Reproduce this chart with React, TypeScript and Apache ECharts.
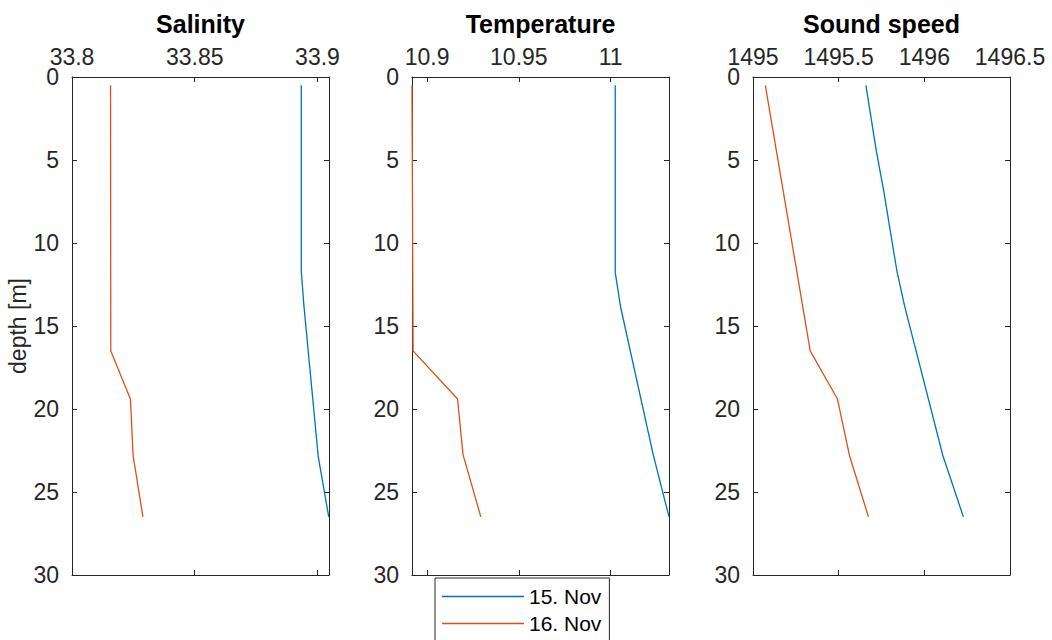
import React, { useEffect, useRef } from "react";
import * as echarts from "echarts";

// ---- data ----
const seriesNames = ["15. Nov", "16. Nov"];
const panelTitles = ["Salinity", "Temperature", "Sound speed"];

// Salinity
const salDepth15 = [0.5, 11.7, 13.8, 22.85, 26.5];
const sal15 = [33.8934, 33.8934, 33.8945, 33.9003, 33.9046];
const salDepth16 = [0.5, 16.5, 19.4, 22.8, 26.5];
const sal16 = [33.8157, 33.8158, 33.8238, 33.8249, 33.8289];
const salTicks = [33.8, 33.85, 33.9];

// Temperature
const tempDepth15 = [0.5, 11.77, 13.84, 22.75, 26.5];
const temp15 = [11.0025, 11.0025, 11.0054, 11.0232, 11.0318];
const tempDepth16 = [0.5, 16.5, 19.4, 22.75, 26.5];
const temp16 = [10.8918, 10.8924, 10.9166, 10.9196, 10.9293];
const tempTicks = [10.9, 10.95, 11];

// Sound speed
const ssDepth15 = [0.5, 4.4, 6.8, 11.7, 13.8, 22.8, 26.5];
const ss15 = [1495.659, 1495.719, 1495.762, 1495.84, 1495.885, 1496.108, 1496.228];
const ssDepth16 = [0.5, 16.5, 19.4, 22.8, 26.5];
const ss16 = [1495.072, 1495.334, 1495.493, 1495.563, 1495.674];
const ssTicks = [1495, 1495.5, 1496, 1496.5];

const xRanges = [
  [33.8, 33.9047],
  [10.8918, 11.0318],
  [1495, 1496.5],
];

const BLUE = "#0072BD";
const ORANGE = "#D95319";
const AX = "#262626";
const FONT = "'Liberation Sans', Arial, Helvetica, sans-serif";
const TICK_FS = 23;

const zip = (xs: number[], ds: number[]) => xs.map((v, i) => [v, ds[i]]);

export default function App() {
  const ref = useRef<HTMLDivElement>(null);

  useEffect(() => {
    if (!ref.current) return;
    const chart = echarts.init(ref.current, undefined, { renderer: "svg" });

    const gridLefts = [72, 412, 753];
    const gridWidth = 257;
    const gridTop = 77;
    const gridHeight = 498;
    const ticksList = [salTicks, tempTicks, ssTicks];

    const grids = gridLefts.map((l) => ({
      left: l,
      top: gridTop,
      width: gridWidth,
      height: gridHeight,
      containLabel: false,
    }));

    const xAxes: any[] = [];
    const yAxes: any[] = [];
    for (let i = 0; i < 3; i++) {
      const [mn, mx] = xRanges[i];
      const tv = ticksList[i];
      xAxes.push({
        type: "value",
        gridIndex: i,
        position: "top",
        min: mn,
        max: mx,
        axisLine: { show: true, onZero: false, lineStyle: { color: AX, width: 1 } },
        axisTick: { show: true, inside: true, length: 5, customValues: tv, lineStyle: { color: AX } },
        axisLabel: {
          show: true,
          customValues: tv,
          color: AX,
          fontSize: TICK_FS,
          lineHeight: 14,
          fontFamily: FONT,
          margin: 13,
          formatter: (v: number) => String(v),
        },
        splitLine: { show: false },
      });
      xAxes.push({
        type: "value",
        gridIndex: i,
        position: "bottom",
        min: mn,
        max: mx,
        axisLine: { show: true, onZero: false, lineStyle: { color: AX, width: 1 } },
        axisTick: { show: true, inside: true, length: 5, customValues: tv, lineStyle: { color: AX } },
        axisLabel: { show: false },
        splitLine: { show: false },
      });
      yAxes.push({
        type: "value",
        gridIndex: i,
        position: "left",
        inverse: true,
        min: 0,
        max: 30,
        interval: 5,
        name: i === 0 ? "depth [m]" : "",
        nameLocation: "middle",
        nameRotate: 90,
        nameGap: 40,
        nameTextStyle: { color: AX, fontSize: TICK_FS, fontFamily: FONT },
        axisLine: { show: true, onZero: false, lineStyle: { color: AX, width: 1 } },
        axisTick: { show: true, inside: true, length: 5, lineStyle: { color: AX } },
        axisLabel: { show: true, color: AX, fontSize: TICK_FS, lineHeight: 16, fontFamily: FONT, margin: 13 },
        splitLine: { show: false },
      });
      yAxes.push({
        type: "value",
        gridIndex: i,
        position: "right",
        inverse: true,
        min: 0,
        max: 30,
        interval: 5,
        axisLine: { show: true, onZero: false, lineStyle: { color: AX, width: 1 } },
        axisTick: { show: true, inside: true, length: 5, lineStyle: { color: AX } },
        axisLabel: { show: false },
        splitLine: { show: false },
      });
    }

    const pairs = [
      [zip(sal15, salDepth15), zip(sal16, salDepth16)],
      [zip(temp15, tempDepth15), zip(temp16, tempDepth16)],
      [zip(ss15, ssDepth15), zip(ss16, ssDepth16)],
    ];
    const series: any[] = [];
    pairs.forEach((p, i) => {
      p.forEach((data, k) => {
        series.push({
          type: "line",
          name: seriesNames[k],
          xAxisIndex: 2 * i,
          yAxisIndex: 2 * i,
          data,
          symbol: "none",
          clip: false,
          lineStyle: { color: k === 0 ? BLUE : ORANGE, width: 1.3 },
          itemStyle: { color: k === 0 ? BLUE : ORANGE },
        });
      });
    });

    chart.setOption({
      animation: false,
      backgroundColor: "#ffffff",
      title: panelTitles.map((t, i) => ({
        text: t,
        left: gridLefts[i] + gridWidth / 2,
        top: 11,
        textAlign: "center",
        padding: 0,
        textStyle: { color: "#000", fontSize: 25, fontWeight: "bold", fontFamily: FONT },
      })),
      legend: {
        data: seriesNames,
        orient: "vertical",
        left: 435,
        top: 578,
        icon: "rect",
        itemWidth: 82,
        itemHeight: 1.4,
        itemGap: 6,
        padding: [8, 8, 10, 7],
        borderColor: "#262626",
        borderWidth: 1,
        backgroundColor: "#fff",
        textStyle: { color: "#000", fontSize: 21, fontFamily: FONT },
      },
      grid: grids,
      xAxis: xAxes,
      yAxis: yAxes,
      series,
    });

    return () => chart.dispose();
  }, []);

  return (
    <div style={{ position: "fixed", left: 0, top: 0, width: 1052, height: 640, overflow: "hidden", background: "#fff" }}>
      <div ref={ref} style={{ width: 1052, height: 720 }} />
    </div>
  );
}
